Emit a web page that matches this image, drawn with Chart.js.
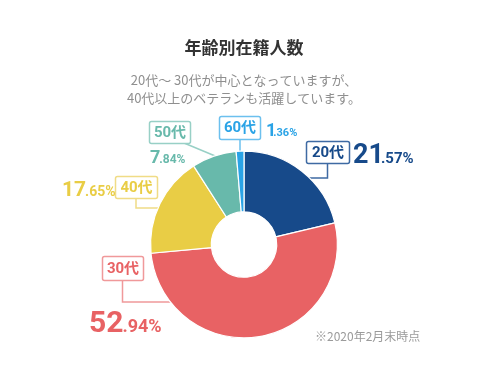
<!DOCTYPE html>
<html>
<head>
<meta charset="utf-8">
<script src="https://cdn.jsdelivr.net/npm/chart.js@4.4.1/dist/chart.umd.min.js"></script>
<style>
html,body{margin:0;padding:0;background:#fff;}
#wrap{position:relative;width:488px;height:378px;}
canvas{display:block;}
</style>
</head>
<body>
<div id="wrap"><canvas id="c" width="488" height="378"></canvas></div>
<script>
// ---- data ----
const categories = ['20代', '30代', '40代', '50代', '60代'];
const shares = [21.57, 52.94, 17.65, 7.84, 1.36];
const titleText = '年齢別在籍人数';
const subtitleLines = ['20代〜 30代が中心となっていますが、', '40代以上のベテランも活躍しています。'];
const footnote = '※2020年2月末時点';

// ---- styles ----
const colors = ['#174a8a', '#e86264', '#e9cd45', '#68b9ab', '#2aa3e6'];
const lightColors = ['#3e6aa3', '#f0999a', '#f0dc86', '#98d0c6', '#6cc0ee'];
const labelLayout = [
  {box: [306, 141, 43, 22], leader: [[327.5, 163], [327.5, 178], [300, 178]], pct: {x: 353, y: 163, big: 27, small: 15}},
  {box: [102, 256, 41, 24], leader: [[122.5, 280], [122.5, 302], [185, 302]], pct: {x: 89, y: 332, big: 30, small: 18}},
  {box: [115, 176, 42, 22], leader: [[136, 198], [136, 208], [175, 208]], pct: {x: 62, y: 196, big: 21, small: 14}},
  {box: [149, 121, 41, 22], leader: [[184, 143], [232, 163]], pct: {x: 150, y: 163, big: 18, small: 12}},
  {box: [219, 116, 41, 23], leader: [[240, 139], [240, 170]], pct: {x: 266, y: 136, big: 18, small: 11}}
];
const JP = "'Noto Sans CJK JP', sans-serif";
const NUM = "Roboto, 'Noto Sans CJK JP', sans-serif";

function roundRect(ctx, x, y, w, h, r) {
  ctx.beginPath();
  ctx.moveTo(x + r, y);
  ctx.lineTo(x + w - r, y);
  ctx.arcTo(x + w, y, x + w, y + r, r);
  ctx.lineTo(x + w, y + h - r);
  ctx.arcTo(x + w, y + h, x + w - r, y + h, r);
  ctx.lineTo(x + r, y + h);
  ctx.arcTo(x, y + h, x, y + h - r, r);
  ctx.lineTo(x, y + r);
  ctx.arcTo(x, y, x + r, y, r);
  ctx.closePath();
}

const leaderPlugin = {
  id: 'leaders',
  beforeDatasetsDraw(chart) {
    const ctx = chart.ctx;
    ctx.save();
    labelLayout.forEach((L, i) => {
      ctx.strokeStyle = lightColors[i];
      ctx.lineWidth = 1.5;
      ctx.beginPath();
      L.leader.forEach((p, k) => k === 0 ? ctx.moveTo(p[0], p[1]) : ctx.lineTo(p[0], p[1]));
      ctx.stroke();
    });
    ctx.restore();
  }
};

const textPlugin = {
  id: 'texts',
  afterDraw(chart) {
    const ctx = chart.ctx;
    ctx.save();
    // title
    ctx.textAlign = 'center';
    ctx.textBaseline = 'middle';
    ctx.fillStyle = '#333333';
    ctx.font = 'bold 17px ' + JP;
    ctx.fillText(titleText, 244, 48);
    ctx.fillStyle = '#8f8f8f';
    ctx.font = '13px ' + JP;
    ctx.fillText(subtitleLines[0], 244, 80);
    ctx.fillText(subtitleLines[1], 244, 98.5);
    // footnote
    ctx.textAlign = 'left';
    ctx.fillStyle = '#9a9a9a';
    ctx.font = '12px ' + JP;
    ctx.fillText(footnote, 315, 336.5);

    // labels
    categories.forEach((cat, i) => {
      const L = labelLayout[i];
      const [bx, by, bw, bh] = L.box;
      roundRect(ctx, bx + 0.5, by + 0.5, bw, bh, 2);
      ctx.fillStyle = '#ffffff';
      ctx.fill();
      ctx.strokeStyle = lightColors[i];
      ctx.lineWidth = 1.5;
      ctx.stroke();
      ctx.fillStyle = colors[i];
      ctx.textAlign = 'center';
      ctx.textBaseline = 'middle';
      ctx.font = 'bold 15px ' + NUM;
      ctx.fillText(cat, bx + bw / 2 + 0.5, by + bh / 2 + 1);

      const parts = shares[i].toFixed(2).split('.');
      const P = L.pct;
      ctx.textAlign = 'left';
      ctx.textBaseline = 'alphabetic';
      ctx.font = 'bold ' + P.big + 'px ' + NUM;
      ctx.fillText(parts[0], P.x, P.y);
      const w = ctx.measureText(parts[0]).width;
      ctx.font = 'bold ' + P.small + 'px ' + NUM;
      ctx.fillText('.' + parts[1] + '%', P.x + w - (parts[0].endsWith('1') ? 3 : 1), P.y);
    });
    ctx.restore();
  }
};

new Chart(document.getElementById('c'), {
  type: 'doughnut',
  data: {
    labels: categories,
    datasets: [{
      data: shares,
      backgroundColor: colors,
      borderColor: '#ffffff',
      borderWidth: 1.2,
      hoverOffset: 0
    }]
  },
  options: {
    responsive: false,
    animation: false,
    cutout: '35%',
    layout: {padding: {top: 150.5, bottom: 39.5, left: 0, right: 0}},
    plugins: {legend: {display: false}, tooltip: {enabled: false}, title: {display: false}},
    events: []
  },
  plugins: [leaderPlugin, textPlugin]
});
</script>
</body>
</html>
